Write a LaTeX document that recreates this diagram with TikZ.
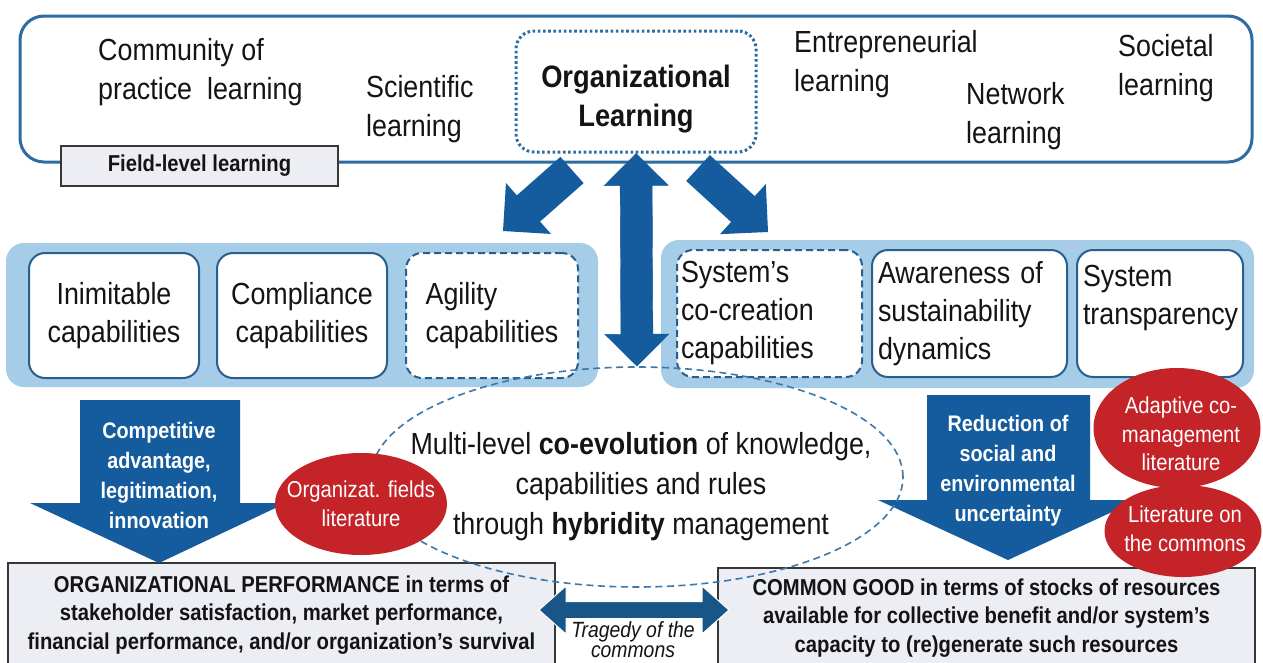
\documentclass[tikz,border=0pt]{standalone}
\usepackage{fontspec}
\setmainfont[FakeStretch=0.88]{Liberation Sans}
\usetikzlibrary{shapes.geometric,calc}

\definecolor{framecol}{RGB}{45,108,160}
\definecolor{arrowblue}{RGB}{20,92,158}
\definecolor{panelblue}{RGB}{165,205,232}
\definecolor{boxedge}{RGB}{40,95,140}
\definecolor{litred}{RGB}{196,35,40}
\definecolor{paleg}{RGB}{236,238,244}
\definecolor{edgegray}{RGB}{55,55,55}
\definecolor{tragblue}{RGB}{24,86,136}
\definecolor{dashblue}{RGB}{60,120,172}
\definecolor{ink}{RGB}{20,20,20}

\newcommand\txtsize[2]{\fontsize{#1}{#2}\selectfont}

% single-headed block arrow: style, start, end, shaft half-width, head half-width, head length
\newcommand\flatarrow[6]{%
  \path #2 coordinate (fa-a) #3 coordinate (fa-b);
  \coordinate (fa-h) at ($(fa-b)!#6!(fa-a)$);
  \fill[#1] ($(fa-a)!#4!90:(fa-b)$) -- ($(fa-h)!#4!-90:(fa-a)$) -- ($(fa-h)!#5!-90:(fa-a)$)
    -- (fa-b) -- ($(fa-h)!#5!90:(fa-a)$) -- ($(fa-h)!#4!90:(fa-a)$)
    -- ($(fa-a)!#4!-90:(fa-b)$) -- cycle;}

% double-headed block arrow, same arguments
\newcommand\twowayarrow[6]{%
  \path #2 coordinate (ta-a) #3 coordinate (ta-b);
  \coordinate (ta-h) at ($(ta-b)!#6!(ta-a)$);
  \coordinate (ta-g) at ($(ta-a)!#6!(ta-b)$);
  \filldraw[#1] (ta-a) -- ($(ta-g)!#5!90:(ta-b)$) -- ($(ta-g)!#4!90:(ta-b)$)
    -- ($(ta-h)!#4!-90:(ta-a)$) -- ($(ta-h)!#5!-90:(ta-a)$) -- (ta-b)
    -- ($(ta-h)!#5!90:(ta-a)$) -- ($(ta-h)!#4!90:(ta-a)$)
    -- ($(ta-g)!#4!-90:(ta-b)$) -- ($(ta-g)!#5!-90:(ta-b)$) -- cycle;}

\tikzset{
  bigtext/.style={font=\txtsize{30.5}{39}, text=ink, inner sep=0pt, align=left},
  capbox/.style={draw=boxedge, line width=2pt, fill=white, rounded corners=16pt,
    inner sep=0pt, font=\txtsize{30.5}{38}, text=ink},
  panel/.style={fill=panelblue, rounded corners=18pt, inner sep=0pt},
  whitetext/.style={font=\bfseries\txtsize{22.5}{30}, text=white, align=center, inner sep=0pt},
  litnode/.style={ellipse, fill=litred, inner sep=0pt},
  littext/.style={font=\txtsize{23}{28.5}, text=white, align=center, inner sep=0pt},
  resultbox/.style={draw=edgegray, line width=1.5pt, fill=paleg, inner sep=0pt,
    font=\bfseries\txtsize{23}{28.5}, text=ink, align=center},
}

\begin{document}
\begin{tikzpicture}[x=1pt,y=-1pt]
\useasboundingbox[fill=white] (0,0) rectangle (1263,662);

% field-level frame
\node[draw=framecol, line width=3pt, rounded corners=24pt, minimum width=1232pt,
  minimum height=146pt, inner sep=0pt] (frame) at (636,89) {};
\node[draw=edgegray, line width=1.3pt, fill=paleg, minimum width=277pt, minimum height=40pt,
  inner sep=0pt, font=\bfseries\txtsize{23}{28}, text=ink] (field) at (199.5,166) {Field-level learning};

\node[draw=framecol, line width=3pt, dash pattern=on 2.6pt off 2.6pt, rounded corners=18pt,
  minimum width=240pt, minimum height=121pt, inner sep=0pt] (ol) at (636,91.5) {};
\node[font=\bfseries\txtsize{31}{39}, text=ink, align=center, inner sep=0pt] (oltext) at (636,99)
  {Organizational\\Learning};

\node[bigtext, anchor=west] (cop) at (98,72) {Community of\\practice\ \ learning};
\node[bigtext, anchor=west] (sci) at (366,109) {Scientific\\learning};
\node[bigtext, anchor=west] (ent) at (794,64) {Entrepreneurial\\learning};
\node[bigtext, anchor=west] (net) at (966,116) {Network\\learning};
\node[bigtext, anchor=west] (soc) at (1118,68) {Societal\\learning};

% capability panels
\node[panel, minimum width=592pt, minimum height=144pt] (lpanel) at (302,315) {};
\node[panel, minimum width=593pt, minimum height=148pt] (rpanel) at (957.5,314) {};

\node[capbox, minimum width=170pt, minimum height=125pt, align=center] (inim) at (114,315.5)
  {Inimitable\\capabilities};
\node[capbox, minimum width=170pt, minimum height=125pt, align=center] (compl) at (302,315.5)
  {Compliance\\capabilities};
\node[capbox, dash pattern=on 7pt off 4pt, minimum width=172pt, minimum height=125pt,
  align=left] (agil) at (492,315.5) {Agility\\capabilities};

\node[capbox, dash pattern=on 7pt off 4pt, minimum width=185pt, minimum height=127pt,
  text width=177pt, align=left] (cocre) at (769.5,313.5)
  {System’s\\co-creation\\capabilities};
\node[capbox, minimum width=195pt, minimum height=127pt, text width=183pt, align=left]
  (aware) at (969.5,313.5) {Awareness of\\sustainability\\dynamics};
\node[capbox, minimum width=166pt, minimum height=127pt, text width=154pt, align=left]
  (transp) at (1160,313.5) {System\\transparency\\~};

% learning flows
\coordinate (ldA) at (572,170);
\coordinate (ldB) at (503,231);
\coordinate (rdA) at (698,168);
\coordinate (rdB) at (768,232);
\flatarrow{arrowblue}{(ldA)}{(ldB)}{17.5pt}{34pt}{34pt}
\flatarrow{arrowblue}{(rdA)}{(rdB)}{17.5pt}{34pt}{34pt}

% outcome boxes
\node[resultbox, minimum width=547pt, minimum height=104pt] (obox) at (281.5,615)
  {ORGANIZATIONAL PERFORMANCE in terms of\\stakeholder satisfaction, market performance,\\
   financial performance, and/or organization’s survival};
\node[resultbox, minimum width=537pt, minimum height=100pt] (cbox) at (986.5,618)
  {COMMON GOOD in terms of stocks of resources\\available for collective benefit and/or system’s\\
   capacity to (re)generate such resources};

% block arrows towards the outcomes
\fill[arrowblue] (80,400) -- (240,400) -- (240,503) -- (286,503) -- (159,563) -- (30,503)
  -- (80,503) -- cycle;
\node[whitetext] (compadv) at (159,475) {Competitive\\advantage,\\legitimation,\\innovation};
\fill[arrowblue] (927,395) -- (1090,395) -- (1090,500) -- (1138,500) -- (1008,560) -- (878,500)
  -- (927,500) -- cycle;
\node[whitetext] (reduc) at (1008,471) {Reduction of\\social and\\environmental\\uncertainty};

% co-evolution
\node[ellipse, draw=dashblue, line width=1.6pt, dash pattern=on 7pt off 4.5pt,
  minimum width=532pt, minimum height=220pt, inner sep=0pt] (coevo) at (637,477) {};
\node[font=\txtsize{30.5}{40}, text=ink, align=center, inner sep=0pt] (coevotext) at (641,487)
  {Multi-level \textbf{co-evolution} of knowledge,\\capabilities and rules\\
   through \textbf{hybridity} management};

\twowayarrow{arrowblue}{(ol.south)}{(coevo.north)}{16pt}{32pt}{32pt}

% literature streams
\node[litnode, minimum width=172pt, minimum height=102pt] (orgf) at (361,504) {};
\node[littext] (orgftext) at (orgf.center) {Organizat. fields\\literature};
\node[litnode, minimum width=167pt, minimum height=120pt] (adapt) at (1177,428) {};
\node[littext] (adapttext) at ($(adapt.center)+(4,6)$) {Adaptive co-\\management\\literature};
\node[litnode, minimum width=157pt, minimum height=92pt] (lit) at (1183,531) {};
\node[littext] (littext) at ($(lit.center)+(2,-2)$) {Literature on\\the commons};

% tension between the two outcomes
\coordinate (trL) at (539,610);
\coordinate (trR) at (729,610);
\twowayarrow{fill=tragblue, draw=white, line width=1pt}{(trL)}{(trR)}{8.5pt}{24pt}{27pt}
\node[font=\itshape\txtsize{22}{20}, text=ink, align=center, inner sep=0pt] (trag) at (633,640)
  {Tragedy of the\\commons};
\end{tikzpicture}
\end{document}
